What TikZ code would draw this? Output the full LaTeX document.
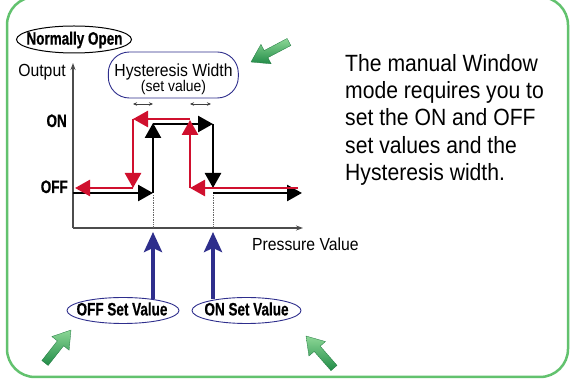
\documentclass[tikz,border=0pt]{standalone}
\usepackage{fontspec}
\setmainfont{Liberation Sans}[FakeStretch=0.9]
\newfontfamily\condbf{Liberation Sans}[FakeStretch=0.75, BoldFeatures={FakeBold=0.6}]
\usetikzlibrary{arrows.meta,calc}
\definecolor{frameg}{RGB}{98,194,110}
\definecolor{curvered}{RGB}{208,16,46}
\definecolor{navy}{RGB}{46,46,140}
\definecolor{arrdark}{RGB}{34,140,72}
\definecolor{arrlight}{RGB}{140,215,150}
\newcommand{\grarrow}[2]{%
  \coordinate (gT) at #1; \coordinate (gS) at #2;
  \coordinate (gH) at ($(gT)!17pt!(gS)$);
  \shade[top color=arrlight, bottom color=arrdark, draw=arrdark!85!black, line width=0.3]
    (gT) -- ($(gH)!11pt!90:(gT)$) -- ($(gH)!4pt!90:(gT)$) -- ($(gS)!4pt!90:(gT)$)
    -- ($(gS)!4pt!-90:(gT)$) -- ($(gH)!4pt!-90:(gT)$) -- ($(gH)!11pt!-90:(gT)$) -- cycle;}
\tikzset{
  reg/.style={font=\fontsize{17.5}{20}\selectfont, inner sep=0},
  bold/.style={font=\condbf\bfseries\fontsize{18}{20}\selectfont, inner sep=0},
  blk/.style={line width=2.6, -{Triangle[length=15,width=16]}},
  rd/.style={curvered, line width=2.6, -{Triangle[length=15,width=16]}},
  axis/.style={line width=1.2, black!70, -{Stealth[length=7,width=5]}},
  bluearr/.style={navy, line width=4.5, -{Stealth[length=20,width=18,inset=4]}},
  oval/.style={navy, line width=0.9},
  dots/.style={black!60, line width=0.7, densely dotted},
  small/.style={black!75, line width=0.6, {Stealth[length=4,width=3.5]}-{Stealth[length=4,width=3.5]}}
}
\begin{document}
\begin{tikzpicture}[x=1pt,y=-1pt]
\useasboundingbox (0,0) rectangle (571,379);
% frame
\draw[frameg, line width=2.5, rounded corners=28] (7,-3) rectangle (568,377);

% axes
\coordinate (org) at (73,228);
\coordinate (ytop) at (73,63);
\coordinate (xend) at (303,228);
\draw[axis] (org) -- (ytop);
\draw[axis] (org) -- (xend);

% labels
\node[reg, anchor=base] (out) at (42,77) {Output};
\node[bold, anchor=base east] (onl) at (67,127) {ON};
\node[bold, anchor=base east] (offl) at (68,193) {OFF};
\node[reg, anchor=base west] (press) at (252,251) {Pressure Value};

% Normally Open
\node[bold] (no) at (74.5,40) {Normally Open};
\draw[black, line width=1] (74,39.5) ellipse [x radius=57.5, y radius=13.5];

% Hysteresis box
\node[draw=navy, line width=0.9, rounded corners=21, minimum width=130, minimum height=46, inner sep=0] (hyst) at (173.3,75) {};
\node[reg, anchor=base] (hysta) at (173.5,76.5) {Hysteresis Width};
\node[reg, font=\fontsize{15.5}{18}\selectfont, anchor=base] (hystb) at (173.5,92) {(set value)};

% small width arrows
\coordinate (w1a) at (133,104); \coordinate (w1b) at (153,104);
\coordinate (w2a) at (190,104); \coordinate (w2b) at (211,104);
\draw[small] (w1a) -- (w1b);
\draw[small] (w2a) -- (w2b);

% dotted lines
\coordinate (offx) at (153,228);
\coordinate (onx) at (213,228);
\draw[dots] (153,195) -- (offx);
\draw[dots] (213,195) -- (onx);

% black curve (rising)
\coordinate (b0) at (73,193); \coordinate (b1) at (153,193);
\coordinate (b2) at (153,123); \coordinate (b2h) at (153,124);
\coordinate (b3) at (213,124); \coordinate (b4) at (213,188);
\coordinate (b4h) at (213,193); \coordinate (b5) at (302,193);
\draw[blk] (b0) -- (b1);
\draw[blk] (b1) -- (b2);
\draw[blk] (b2h) -- (b3);
\draw[blk] (b3) -- (b4);
\draw[blk] (b4h) -- (b5);

% red curve (falling)
\coordinate (r0) at (298,188); \coordinate (r1) at (190,188);
\coordinate (r2) at (190,120); \coordinate (r2h) at (190,119);
\coordinate (r3) at (133,119); \coordinate (r4) at (133,188);
\coordinate (r5) at (75,188);
\draw[rd] (r0) -- (r1);
\draw[rd] (r1) -- (r2);
\draw[rd] (r2h) -- (r3);
\draw[rd] (r3) -- (r4);
\draw[rd] (r4) -- (r5);

% set value ovals
\node[bold] (offsv) at (122,309) {OFF Set Value};
\draw[oval] (123,310.5) ellipse [x radius=56, y radius=13];
\node[bold] (onsv) at (246.5,309) {ON Set Value};
\draw[oval] (246.5,310.5) ellipse [x radius=54.5, y radius=13];

% blue arrows
\coordinate (offtip) at (153,232);
\coordinate (ontip) at (213,232);
\draw[bluearr] (153,299.5) -- (offtip);
\draw[bluearr] (213,299.5) -- (ontip);

% description
\node[anchor=north west, inner sep=0, align=left, font=\fontsize{23.5}{27.3}\selectfont] (desc) at (345,54)
  {The manual Window\\mode requires you to\\set the ON and OFF\\set values and the\\Hysteresis width.};

% green pointer arrows
\grarrow{(251,62)}{(289,42)}
\grarrow{(71,330)}{(45,363)}
\grarrow{(306,336)}{(334,368)}
\end{tikzpicture}
\end{document}
